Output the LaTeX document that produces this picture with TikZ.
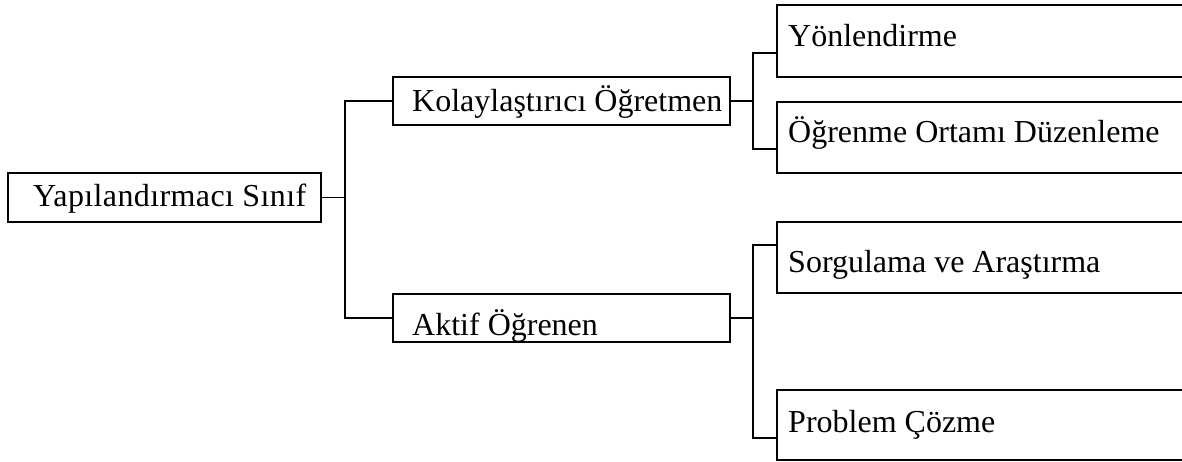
\documentclass[tikz,border=0pt]{standalone}
\usepackage{fontspec}
\setmainfont{Liberation Serif}
\newfontfamily\spacedserif[LetterSpace=1.2]{Liberation Serif}
\usetikzlibrary{calc}
\begin{document}
\begin{tikzpicture}[x=1pt,y=-1pt,
  boxnode/.style={draw=black,line width=1.8pt,rectangle,inner sep=0pt,outer sep=0pt},
  txt/.style={anchor=base west,inner sep=0pt,font=\fontsize{32}{32}\selectfont},
  link/.style={draw=black,line width=1.8pt}]
\clip (0,0) rectangle (1182,462);
% boxes
\node[boxnode,minimum width=313pt,minimum height=49pt] (root) at (164.5,197.5) {};
\node[boxnode,minimum width=337pt,minimum height=48pt] (kol) at (561.5,101) {};
\node[boxnode,minimum width=337pt,minimum height=48pt] (akt) at (561.5,318) {};
\node[boxnode,minimum width=430pt,minimum height=72pt] (yon) at (992,41) {};
\node[boxnode,minimum width=430pt,minimum height=71pt] (ogr) at (992,137.5) {};
\node[boxnode,minimum width=430pt,minimum height=71pt] (sor) at (992,257.5) {};
\node[boxnode,minimum width=430pt,minimum height=70pt] (pro) at (992,425) {};
% texts
\node[txt,font=\spacedserif\fontsize{32}{32}\selectfont] (troot) at (33,207) {Yapılandırmacı Sınıf};
\node[txt] (tkol) at (412,112) {Kolaylaştırıcı Öğretmen};
\node[txt] (takt) at (412,335) {Aktif Öğrenen};
\node[txt] (tyon) at (788,47) {Yönlendirme};
\node[txt] (togr) at (788,143) {Öğrenme Ortamı Düzenleme};
\node[txt] (tsor) at (788,272) {Sorgulama ve Araştırma};
\node[txt] (tpro) at (788,432) {Problem Çözme};
% connectors
\coordinate (j0) at (345,197.5);
\coordinate (j1) at (753,101);
\coordinate (j2) at (753,318);
\draw[link] (root.east) -- (j0);
\draw[link] (kol.west) -| (j0) |- (akt.west);
\draw[link] (kol.east) -- (j1);
\draw[link] ($(yon.north west)!0.667!(yon.south west)$) -| (j1) |- ($(ogr.north west)!0.66!(ogr.south west)$);
\draw[link] (akt.east) -- (j2);
\draw[link] ($(sor.north west)!0.32!(sor.south west)$) -| (j2) |- ($(pro.north west)!0.686!(pro.south west)$);
\end{tikzpicture}
\end{document}
